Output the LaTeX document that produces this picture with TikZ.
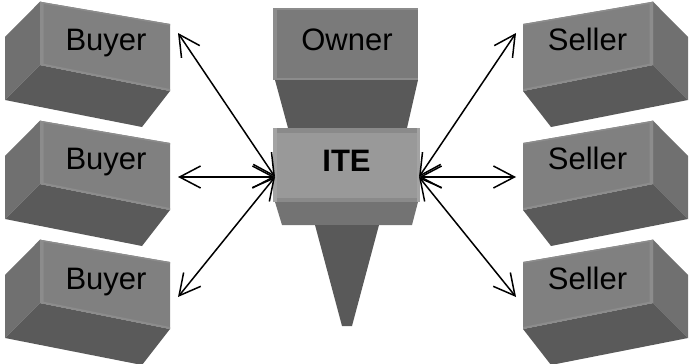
\documentclass[tikz,border=0pt]{standalone}
\usepackage{fontspec}
\setmainfont{Liberation Sans}
\usetikzlibrary{arrows.meta}

\definecolor{frontgray}{RGB}{128,128,128}
\definecolor{sidegray}{RGB}{112,112,112}
\definecolor{undergray}{RGB}{90,90,90}
\definecolor{bevelgray}{RGB}{140,140,140}
\definecolor{ownergray}{RGB}{122,122,122}
\definecolor{itegray}{RGB}{153,153,153}
\definecolor{iteedge}{RGB}{138,138,138}
\definecolor{itelight}{RGB}{163,163,163}
\definecolor{collargray}{RGB}{115,115,115}
\definecolor{darkgray}{RGB}{89,89,89}

% one tilted block, drawn with its side face on the left
\newcommand{\tiltblock}{%
  \fill[sidegray] (40,1.7) -- (5,37) -- (5,100) -- (40,65) -- cycle;
  \fill[undergray] (40,65) -- (170,91) -- (142,127) -- (5,100) -- cycle;
  \fill[frontgray] (40,1.7) -- (170,24) -- (170,91) -- (40,65) -- cycle;
  \fill[bevelgray] (40,1.7) -- (43.5,2.3) -- (43.5,65.7) -- (40,65) -- cycle;
  \fill[bevelgray] (40,63) -- (170,89) -- (170,91) -- (40,65) -- cycle;
  \fill[bevelgray] (40,1.7) -- (170,24) -- (170,25.5) -- (40,3.2) -- cycle;
}

\begin{document}
\begin{tikzpicture}[x=1pt,y=-1pt,
  label/.style={font=\fontsize{31}{31}\selectfont, text=black, inner sep=0pt, anchor=base},
  link/.style={line width=1.5pt, black, {Straight Barb[length=21pt,width=22pt]}-{Straight Barb[length=21pt,width=22pt]}}]
\useasboundingbox (0,0) rectangle (691,364);

% buyer blocks
\foreach \dy in {0,119,238}{
  \begin{scope}[shift={(0,\dy)}]\tiltblock\end{scope}
}
% seller blocks (mirror image)
\foreach \dy in {0,119,238}{
  \begin{scope}[shift={(693,\dy)},xscale=-1]\tiltblock\end{scope}
}

% central column: owner, funnel, ITE, collar and spike
\fill[darkgray] (275,80) -- (418,80) -- (407,128) -- (288,128) -- cycle;
\fill[ownergray] (273,8) rectangle (418,80);
\fill[bevelgray] (273,8) rectangle (277,80);
\fill[bevelgray] (273,8) rectangle (418,9.5);
\fill[bevelgray] (273,78) rectangle (418,80);

\fill[collargray] (275,202) -- (418,202) -- (412,225) -- (282,225) -- cycle;
\fill[darkgray] (315,225) -- (379,225) -- (352,326) -- (342,326) -- cycle;
\fill[itegray] (273,128) rectangle (420,202);
\fill[iteedge] (273,128) rectangle (420,133);
\fill[iteedge] (273,198) rectangle (420,202);
\fill[itelight] (273,128) rectangle (277,202);
\fill[itelight] (416.5,128) rectangle (420,202);

% labels
\node[label] (buyerA)  at (106,50)  {Buyer};
\node[label] (buyerB)  at (106,169.5) {Buyer};
\node[label] (buyerC)  at (106,289.5) {Buyer};
\node[label] (sellerA) at (587.5,50)  {Seller};
\node[label] (sellerB) at (587.5,169.5) {Seller};
\node[label] (sellerC) at (587.5,289.5) {Seller};
\node[label] (owner)   at (347,50)  {Owner};
\node[label, font=\fontsize{31}{31}\selectfont\bfseries] (ite) at (346.5,171.5) {ITE};

% connector ends
\coordinate (hubL) at (275,177);
\coordinate (hubR) at (419,177);
\coordinate (tipBA) at (178,33);
\coordinate (tipBB) at (178,177);
\coordinate (tipBC) at (178,297);
\coordinate (tipSA) at (516,33);
\coordinate (tipSB) at (516,177);
\coordinate (tipSC) at (516,297);

\draw[link] (hubL) -- (tipBA);
\draw[link] (hubL) -- (tipBB);
\draw[link] (hubL) -- (tipBC);
\draw[link] (hubR) -- (tipSA);
\draw[link] (hubR) -- (tipSB);
\draw[link] (hubR) -- (tipSC);
\end{tikzpicture}
\end{document}
